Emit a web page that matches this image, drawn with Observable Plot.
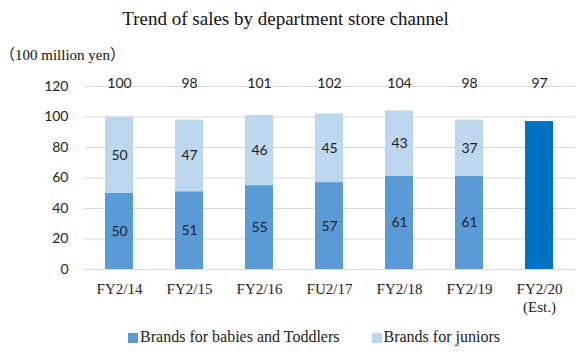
<!DOCTYPE html>
<html><head><meta charset="utf-8">
<script src="https://cdn.jsdelivr.net/npm/d3@7"></script>
<script src="https://cdn.jsdelivr.net/npm/@observablehq/plot@0.6"></script>
<style>
body{margin:0;background:#fff;width:585px;height:354px;overflow:hidden;}
#title{height:40px;line-height:38px;font-size:19px;font-family:"Liberation Serif","Times New Roman",Times,serif;color:#111;text-align:center;padding-right:14px;box-sizing:border-box;}
#unit{height:20px;line-height:30px;font-size:15px;font-family:"Liberation Serif","Noto Sans CJK JP",serif;color:#111;padding-left:0px;}
#legend{height:24px;font-size:16px;font-family:"Liberation Serif","Times New Roman",Times,serif;color:#222;display:flex;justify-content:center;align-items:center;gap:32px;padding-left:43px;box-sizing:border-box;}
#legend span.sw{display:inline-block;width:10px;height:10px;margin-right:2px;vertical-align:-1px;}
</style></head><body>
<div id="title">Trend of sales by department store channel</div>
<div id="unit">（100 million yen）</div>
<div id="chart"></div>
<div id="legend"></div>
<script>
const categories = ["FY2/14","FY2/15","FY2/16","FU2/17","FY2/18","FY2/19","FY2/20\n(Est.)"];
const babies = [50,51,55,57,61,61,null];
const juniors = [50,47,46,45,43,37,null];
const totals = [100,98,101,102,104,98,97];
const seriesNames = ["Brands for babies and Toddlers","Brands for juniors","Estimate"];
const seriesColors = ["#5B9BD5","#BDD7EE","#0070C0"];

const segs = [];
categories.forEach((c,i)=>{
  if (babies[i] != null) {
    segs.push({cat:c, series:seriesNames[0], y1:0, y2:babies[i], v:babies[i]});
    segs.push({cat:c, series:seriesNames[1], y1:babies[i], y2:babies[i]+juniors[i], v:juniors[i]});
  } else {
    segs.push({cat:c, series:seriesNames[2], y1:0, y2:totals[i], v:null});
  }
});
const labels = segs.filter(d=>d.v!=null).map(d=>({...d, mid:(d.y1+d.y2)/2}));
const totalRows = categories.map((c,i)=>({cat:c, total:totals[i]}));

const numFont = "Lato, 'Open Sans', sans-serif";
const serifFont = "'Liberation Serif', 'Times New Roman', Times, serif";
const chart = Plot.plot({
  width:585, height:265,
  marginTop:26, marginBottom:56, marginLeft:84, marginRight:10,
  x:{domain:categories, paddingInner:0.594, paddingOuter:0.29, label:null},
  y:{domain:[0,120], ticks:[0,20,40,60,80,100,120], label:null},
  color:{domain:seriesNames, range:seriesColors},
  style:{background:"#fff", overflow:"visible"},
  marks:[
    Plot.gridY([0,20,40,60,80,100,120], {stroke:"#d9d9d9", strokeOpacity:1, strokeWidth:1}),
    Plot.axisY({ticks:[0,20,40,60,80,100,120], tickSize:0, tickPadding:16, fontSize:14, fontFamily:numFont, fill:"#222", label:null}),
    Plot.axisX({tickSize:0, tickPadding:12, fontSize:15, fontFamily:serifFont, fill:"#222", lineHeight:1.2, label:null}),
    Plot.rectY(segs, {x:"cat", y1:"y1", y2:"y2", fill:"series"}),
    Plot.text(labels, {x:"cat", y:"mid", text:d=>String(d.v), fontSize:14, fontFamily:numFont, fill:"#222"}),
    Plot.text(totalRows, {x:"cat", y:()=>122, text:d=>String(d.total), fontSize:14, fontFamily:numFont, fill:"#222"})
  ]
});
document.getElementById("chart").appendChild(chart);

const lg = document.getElementById("legend");
[0,1].forEach(i=>{
  const item = document.createElement("span");
  const sw = document.createElement("span");
  sw.className="sw"; sw.style.background=seriesColors[i];
  item.appendChild(sw);
  item.appendChild(document.createTextNode(seriesNames[i]));
  lg.appendChild(item);
});
</script>
</body></html>
